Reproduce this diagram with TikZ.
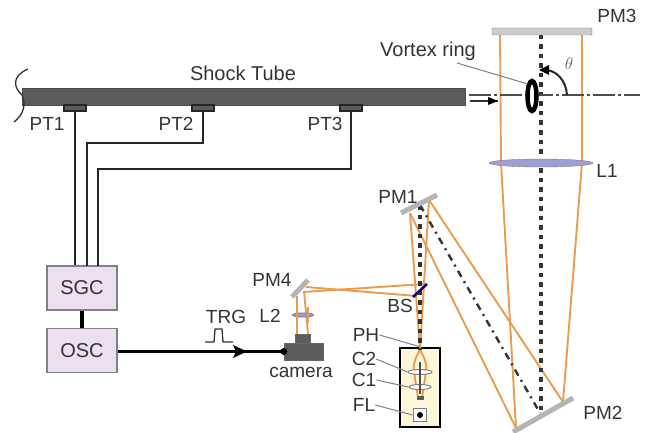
\documentclass[tikz,border=0pt]{standalone}
\usepackage{fontspec}
\setmainfont{Liberation Sans}
\usetikzlibrary{positioning}
\usetikzlibrary{arrows}
\usetikzlibrary{arrows.meta}
\usetikzlibrary{shapes}
\definecolor{tubegray}{HTML}{5C5C5C}
\definecolor{ink}{HTML}{333333}
\definecolor{boxlilac}{HTML}{EBE0EE}
\definecolor{beam}{HTML}{EA9C4E}
\definecolor{lensblue}{HTML}{A09CD6}
\definecolor{lampbox}{HTML}{FBF7D8}
\definecolor{mirrorgray}{HTML}{B4B4B4}
\begin{document}
\begin{tikzpicture}[x=1pt,y=-1pt,>={Stealth[length=9pt,width=8pt]},
  lbl/.style={font=\fontsize{19}{21}\selectfont,text=ink,inner sep=0pt},
  unit box/.style={rectangle,draw=gray,line width=1.2pt,fill=boxlilac,minimum width=70pt,minimum height=44pt,font=\fontsize{20}{22}\selectfont,text=ink,inner sep=0pt},
  sensor/.style={rectangle,draw=black!85,line width=1.3pt,fill=tubegray,minimum width=22pt,minimum height=6pt,inner sep=0pt},
  wire/.style={draw=black!85,line width=2.2pt},
  ray/.style={draw=beam,line width=1.9pt},
  centre line/.style={draw=black!80,line width=3.2pt,dash pattern=on 4.5pt off 5pt},
  leader/.style={draw=gray,line width=1pt},
  mirror/.style={draw=mirrorgray,line width=5pt},
  small lens/.style={ellipse,draw=gray,fill=white,line width=1pt,inner sep=0pt}]
  \useasboundingbox (0,0) rectangle (650,433);

  % tube and pressure sensors
  \node[rectangle,fill=tubegray,draw=black!70,minimum width=443pt,minimum height=17pt,inner sep=0pt] (tube) at (243.5,96.5) {};
  \node[lbl,font=\fontsize{20}{22}\selectfont] (tubetext) at (243,73) {Shock Tube};
  \draw[black!80,line width=1.3pt] (28,69) .. controls (12,76) and (13,87) .. (22,95) .. controls (27,106) and (22,116) .. (14,122);
  \node[sensor] (pt1) at (75,108) {};
  \node[sensor] (pt2) at (203,108) {};
  \node[sensor] (pt3) at (351,108) {};
  \node[lbl] (pt1text) at (47,124) {PT1};
  \node[lbl] (pt2text) at (176,124) {PT2};
  \node[lbl] (pt3text) at (325,124) {PT3};

  % signal boxes
  \node[unit box] (sgc) at (82,288) {SGC};
  \node[unit box] (osc) at (82,350.5) {OSC};
  \path[wire] (pt1.south) -- (pt1.south |- sgc.north);
  \path[wire] (pt2.south) |- (87,143) -- (87,266);
  \path[wire] (pt3.south) |- (98,169) -- (98,266);
  \draw[black,line width=4pt] (sgc) -- (osc);

  % camera and trigger
  \node[rectangle,fill=tubegray,draw=black!60,minimum width=39pt,minimum height=17pt,inner sep=0pt] (camera) at (303.5,351.5) {};
  \node[rectangle,fill=tubegray,draw=black!60,minimum width=15pt,minimum height=9pt,inner sep=0pt] (camtop) at (302.5,338.5) {};
  \node[lbl] (cameratext) at (301,372) {camera};
  \coordinate (trgtip) at (247,351.5);
  \draw[black,line width=2.5pt] (osc.east |- camera) -- (camera.west);
  \fill[black] (camera.west) circle (3.5pt);
  \fill[black] (233,345) -- (trgtip) -- (233,358) -- (236,351.5) -- cycle;
  \node[lbl] (trg) at (226,317) {TRG};
  \draw[black!80,line width=1.3pt] (205,342) -- (214,342) -- (215,329) -- (222,329) -- (223,342) -- (233,342);
  \node[lbl] (l2text) at (270,316) {L2};

  % named points on the beams
  \coordinate (pm4a) at (306,287);
  \coordinate (pm4b) at (303,292);
  \coordinate (pm4c) at (297,296);
  \coordinate (pm4d) at (304,291);
  \coordinate (bsa) at (417,296);
  \coordinate (bsb) at (425,284);
  \coordinate (pm1a) at (410,213);
  \coordinate (pm1b) at (429,200);
  \coordinate (pm2a) at (516,428);
  \coordinate (pm2b) at (563,402);
  \coordinate (ph) at (420,350);

  % lamp box
  \node[rectangle,draw=black,line width=2.5pt,fill=lampbox,minimum width=40pt,minimum height=79pt,inner sep=0pt] (lampcase) at (420,387.5) {};
  \draw[ray] (ph) .. controls (414,360) and (413,366) .. (414,372) -- (418,398);
  \draw[ray] (ph) .. controls (426,360) and (427,366) .. (426,372) -- (422,398);
  \node[small lens,minimum width=24pt,minimum height=5pt] (c2) at (420,372) {};
  \node[small lens,minimum width=22pt,minimum height=5pt] (c1) at (420,387) {};
  \draw[black!70,line width=1.5pt] (420,362) -- (420,394);
  \node[rectangle,fill=tubegray,minimum width=7pt,minimum height=4pt,inner sep=0pt] (stop) at (420,398) {};
  \node[rectangle,draw=gray,fill=white,line width=1.8pt,minimum width=13pt,minimum height=13pt,inner sep=0pt] (fl) at (420,415) {};
  \fill[black] (fl.center) circle (3pt);

  % beam path
  \path[ray] (ph) -- (pm1a);
  \path[ray] (ph) -- (pm1b);
  \path[ray] (pm1a) -- (pm2a);
  \path[ray] (pm1b) -- (pm2b);
  \path[ray] (pm4a) -- (bsa);
  \path[ray] (pm4b) -- (bsb);
  \path[ray] (pm4c) -- (297,334);
  \path[ray] (pm4d) -- (308,334);
  \path[ray] (pm2a) -- (501,163) -- (500,32);
  \path[ray] (pm2b) -- (582,163) -- (582,32);

  % centre lines
  \path[centre line] (541,35) -- (541,415);
  \path[centre line,line width=2.4pt,dash pattern=on 7pt off 5pt on 2pt off 5pt] (420,205) -- (540,413);
  \path[centre line] (420,205) -- (ph);
  \draw[black!70,line width=1.6pt,dash pattern=on 22pt off 3pt on 3pt off 3pt] (469,95) -- (640,95);
  \draw[black!80,line width=1.6pt] (470,101) -- (498,101);
  \fill[black] (488,97) -- (498,101) -- (488,105) -- cycle;

  % mirrors and lenses
  \node[rectangle,draw=gray,fill=mirrorgray!70,minimum width=100pt,minimum height=7pt,inner sep=0pt,rounded corners=1pt] (pm3) at (542,31.5) {};
  \node[lbl] (pm3text) at (617,16) {PM3};
  \node[ellipse,draw=gray,fill=lensblue,minimum width=104pt,minimum height=8pt,inner sep=0pt] (l1) at (541,163) {};
  \node[lbl] (l1text) at (607,171) {L1};
  \node[small lens,fill=lensblue,minimum width=21pt,minimum height=4pt] (l2) at (303,315) {};
  \path[ray] (297,307) -- (297,323);
  \path[ray] (308,307) -- (308,323);
  \path[mirror] (401,213) -- (437,195);
  \node[lbl] (pm1text) at (398,197) {PM1};
  \path[mirror] (292,297) -- (308,280);
  \node[lbl] (pm4text) at (272,280) {PM4};
  \path[mirror] (513,432) -- (573,398);
  \node[lbl] (pm2text) at (603,413) {PM2};
  \draw[blue!45!black,line width=2.5pt] (413,297) -- (427,284);
  \node[lbl] (bstext) at (400,306) {BS};

  % vortex ring
  \node[ellipse,draw=black,line width=4.5pt,fill=white,minimum width=9pt,minimum height=30pt,inner sep=0pt] (ring) at (532,96) {};
  \node[lbl,font=\fontsize{20}{22}\selectfont] (ringtext) at (428,51) {Vortex ring};
  \path[leader] (457,63) -- (ring.north west);
  \draw[black!85,line width=2pt] (567,95) .. controls (566,80) and (556,70) .. (545,70);
  \fill[black] (549,65) -- (539,70) -- (549,75) -- cycle;
  \node[lbl,font=\fontsize{18}{20}\selectfont,text=black!60] (thetatext) at (569,64) {$\theta$};

  % lamp box labels
  \node[lbl] (phtext) at (366,335) {PH};
  \node[lbl] (c2text) at (364,359) {C2};
  \node[lbl] (c1text) at (364,380) {C1};
  \node[lbl] (fltext) at (364,405) {FL};
  \path[leader] (phtext.east) -- (lampcase.north);
  \path[leader] (c2text.east) -- (c2.west);
  \path[leader] (c1text.east) -- (c1.west);
  \path[leader] (fltext.east) -- (fl.west);
\end{tikzpicture}
\end{document}
